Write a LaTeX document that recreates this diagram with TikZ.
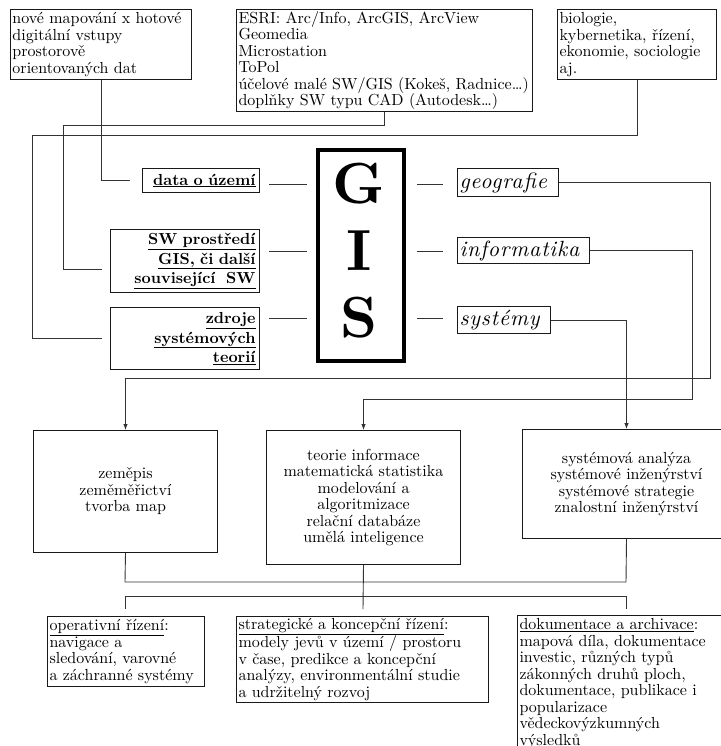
\documentclass[tikz,border=0pt]{standalone}
\usepackage{fontspec}
\setmainfont{lmroman10-regular.otf}[BoldFont=lmroman10-bold.otf,ItalicFont=lmroman10-italic.otf,BoldItalicFont=lmroman10-bolditalic.otf]
\newfontfamily\labrm{lmroman10-regular.otf}[LetterSpace=4,BoldFont=lmroman10-bold.otf,ItalicFont=lmroman10-italic.otf]
\usepackage{tikz}
\usetikzlibrary{arrows.meta}
\tikzset{
  box/.style={draw=black!90,line width=1pt,anchor=north west,inner xsep=2pt,inner ysep=1pt,font=\fontsize{16}{16.5}\selectfont},
  lbox/.style={box,align=left},
  cbox/.style={box,align=center},
  rbox/.style={box,align=right,inner xsep=4pt,font=\fontsize{16}{19.5}\selectfont\bfseries},
  ibox/.style={box,align=left,font=\labrm\fontsize{22}{24}\selectfont\itshape},
  gisletter/.style={font=\fontsize{58}{60}\selectfont\bfseries,inner sep=0pt},
  link/.style={draw=black!80,line width=0.9pt},
  feed/.style={link,-{Latex[length=6pt,width=4.5pt]}},
}
\begin{document}
\begin{tikzpicture}[x=1pt,y=-1pt]
  \useasboundingbox (0,0) rectangle (720,746);
  \node[lbox,text width=177pt,minimum height=70pt] (maps) at (10,9) {nové mapování x hotové\\digitální vstupy\\prostorově\\orientovaných dat};
  \node[lbox,text width=292pt,minimum height=102pt] (esri) at (236,9) {ESRI: Arc/Info, ArcGIS, ArcView\\Geomedia\\Microstation\\ToPol\\účelové malé SW/GIS (Kokeš, Radnice…)\\doplňky SW typu CAD (Autodesk…)};
  \node[lbox,text width=155pt,minimum height=70pt] (bio) at (557,9) {biologie,\\kybernetika, řízení,\\ekonomie, sociologie\\aj.};

  \node[rbox,text width=109pt,minimum height=24pt] (data) at (142,168) {\underline{data o území}};
  \node[rbox,text width=141pt,minimum height=63pt] (swenv) at (110,229) {\underline{SW prostředí}\\\underline{GIS, či další}\\\underline{související~~SW}};
  \node[rbox,text width=141pt,minimum height=62pt] (zdroje) at (110,307) {\underline{zdroje}\\\underline{systémových}\\\underline{teorií}};

  \node[draw,line width=4pt,anchor=north west,minimum width=86pt,minimum height=211pt] (gis) at (316,148) {};
  \node[gisletter] (G) at (359,184) {G};
  \node[gisletter] (I) at (359,251) {I};
  \node[gisletter] (S) at (359,318) {S};

  \node[ibox,text width=97pt,minimum height=28pt] (geo) at (457,168) {geografie};
  \node[ibox,text width=128pt,minimum height=26pt] (info) at (457,237) {informatika};
  \node[ibox,text width=89pt,minimum height=27pt] (sys) at (457,306) {systémy};

  \node[cbox,text width=180pt,minimum height=122pt] (zemepis) at (33,430) {zeměpis\\zeměměřictví\\tvorba map};
  \node[cbox,text width=190pt,minimum height=134pt] (teorie) at (266,430) {teorie informace\\matematická statistika\\modelování a\\algoritmizace\\relační databáze\\umělá inteligence};
  \node[cbox,text width=204pt,minimum height=109pt] (analyza) at (522,429) {systémová analýza\\systémové inženýrství\\systémové strategie\\znalostní inženýrství};

  \node[lbox,text width=153pt,minimum height=70pt] (oper) at (47,616) {\underline{operativní řízení}:\\navigace a\\sledování, varovné\\a záchranné systémy};
  \node[lbox,text width=248pt,minimum height=86pt] (strat) at (236,616) {\underline{strategické a koncepční řízení}:\\modely jevů v území / prostoru\\v čase, predikce a koncepční\\analýzy, environmentální studie\\a udržitelný rozvoj};
  \node[lbox,text width=216pt,minimum height=136pt] (dok) at (517,615) {\underline{dokumentace a archivace}:\\mapová díla, dokumentace\\investic, různých typů\\zákonných druhů ploch,\\dokumentace, publikace i\\popularizace\\vědeckovýzkumných\\výsledků};

  \coordinate (bendB) at (63,125); \coordinate (bendC) at (32,135);
  \draw[link,shorten >=12pt] (maps.south) |- (data.west);
  \draw[link,shorten >=8pt] (esri.south) |- (bendB) |- ([yshift=-8pt]swenv.west);
  \draw[link,shorten >=8pt] (bio.south) |- (bendC) |- (zdroje.west);

  \draw[link] ([xshift=9pt]data.east |- G) -- ([xshift=-9pt]gis.west |- G);
  \draw[link] ([xshift=9pt]swenv.east |- I) -- ([xshift=-9pt]gis.west |- I);
  \draw[link] ([xshift=9pt]zdroje.east |- S) -- ([xshift=-9pt]gis.west |- S);
  \draw[link] ([xshift=11pt]gis.east |- G) -- ([xshift=-14pt]geo.west |- G);
  \draw[link] ([xshift=11pt]gis.east |- I) -- ([xshift=-14pt]info.west |- I);
  \draw[link] ([xshift=11pt]gis.east |- S) -- ([xshift=-14pt]sys.west |- S);

  \coordinate (bendG) at (710,378); \coordinate (bendI) at (692,399);
  \draw[feed] (geo.east) -| (bendG) -| (zemepis.north);
  \draw[feed] (info.east) -| (bendI) -| (teorie.north);
  \draw[feed] (sys.east) -| (analyza.north);

  \coordinate (joinL) at (125,582); \coordinate (joinR) at (626,582);
  \coordinate (brL) at (125,609); \coordinate (brM) at (363,609); \coordinate (brR) at (626,609);
  \draw[link] (zemepis.south) -- (joinL) -- (joinR) -- (analyza.south);
  \draw[link] (teorie.south) -- (brM);
  \draw[link] (brL) -- ++(0,-13) -| (brR);
\end{tikzpicture}
\end{document}
